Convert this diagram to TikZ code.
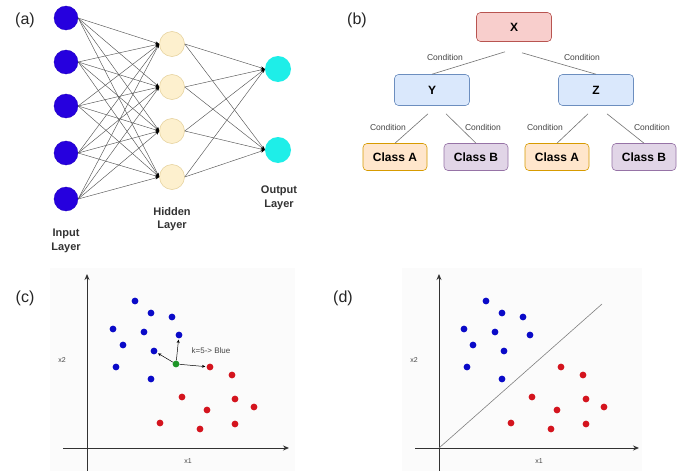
\documentclass[tikz,border=0pt]{standalone}
\usepackage{fontspec}
\setmainfont{Liberation Sans}
\usetikzlibrary{arrows.meta}
\definecolor{inblue}{RGB}{38,0,222}
\definecolor{hidfill}{RGB}{253,240,206}
\definecolor{hiddraw}{RGB}{228,206,150}
\definecolor{outcyan}{RGB}{30,238,232}
\definecolor{edgegray}{RGB}{85,85,85}
\definecolor{xfill}{HTML}{F8CECC}\definecolor{xdraw}{HTML}{B85450}
\definecolor{yfill}{HTML}{DAE8FC}\definecolor{ydraw}{HTML}{6C8EBF}
\definecolor{afill}{HTML}{FFE6CC}\definecolor{adraw}{HTML}{D79B00}
\definecolor{bfill}{HTML}{E1D5E7}\definecolor{bdraw}{HTML}{9673A6}
\definecolor{dotblue}{RGB}{10,10,200}
\definecolor{dotred}{RGB}{212,20,30}
\definecolor{dotgreen}{RGB}{30,150,40}
\definecolor{axisgray}{RGB}{50,50,50}
\definecolor{txtgray}{RGB}{70,70,70}
\begin{document}
\begin{tikzpicture}[x=1pt,y=-1pt,
  inp/.style={circle,fill=inblue,draw=inblue!85!black,line width=0.3pt,minimum size=24pt,inner sep=0pt},
  hid/.style={circle,fill=hidfill,draw=hiddraw,line width=0.5pt,minimum size=25pt,inner sep=0pt},
  outn/.style={circle,fill=outcyan,minimum size=26pt,inner sep=0pt},
  nnedge/.style={draw=edgegray,line width=0.45pt,-{Stealth[length=4pt,width=3pt,color=black]}},
  layerlbl/.style={align=center,font=\fontsize{11}{13.5}\selectfont\bfseries,text=black!80},
  panellbl/.style={font=\fontsize{16}{17}\selectfont,text=black!85},
  treebox/.style={rounded corners=4pt,line width=0.6pt,font=\fontsize{12}{13}\selectfont\bfseries,inner sep=0pt},
  xbox/.style={treebox,fill=xfill,draw=xdraw,minimum width=75pt,minimum height=29pt},
  ybox/.style={treebox,fill=yfill,draw=ydraw,minimum width=75pt,minimum height=31pt},
  abox/.style={treebox,fill=afill,draw=adraw,minimum width=64pt,minimum height=27pt},
  bbox/.style={treebox,fill=bfill,draw=bdraw,minimum width=64pt,minimum height=27pt},
  treeedge/.style={draw=black!55,line width=0.6pt},
  condlbl/.style={font=\fontsize{8.5}{9}\selectfont,text=txtgray,inner sep=0pt},
  axis/.style={draw=axisgray,line width=0.9pt,-{Stealth[length=6pt,width=5pt]}},
  axlbl/.style={font=\fontsize{7}{8}\selectfont,text=txtgray,inner sep=0pt},
  bdot/.style={circle,fill=dotblue,minimum size=6.8pt,inner sep=0pt},
  rdot/.style={circle,fill=dotred,minimum size=6.8pt,inner sep=0pt},
  gdot/.style={circle,fill=dotgreen,minimum size=6.8pt,inner sep=0pt},
  knn/.style={draw=black,line width=0.5pt,-{Stealth[length=3.5pt,width=3pt]},shorten >=1pt},
  klbl/.style={font=\fontsize{8}{9}\selectfont,text=txtgray,inner sep=0pt},
  panelbg/.style={fill=black!1.5,draw=none}
]
\useasboundingbox (0,0) rectangle (681,471);
\fill[white] (0,0) rectangle (681,471);

% ---------------- (a) neural network ----------------
\node[panellbl] (la) at (25,20) {(a)};
\foreach \i/\y in {1/18,2/62,3/106,4/153,5/199} \node[inp] (i\i) at (66,\y) {};
\foreach \i/\y in {1/44,2/87,3/131,4/177} \node[hid] (h\i) at (172,\y) {};
\foreach \i/\y in {1/69,2/150} \node[outn] (o\i) at (278,\y) {};
\foreach \i in {1,...,5}
  \foreach \j in {1,...,4}
    \draw[nnedge] (i\i.east) -- (h\j.west);
\foreach \j in {1,...,4}
  \foreach \k in {1,2}
    \draw[nnedge] (h\j.east) -- (o\k.west);
\node[layerlbl] (lin) at (66,241) {Input\\Layer};
\node[layerlbl] (lhid) at (172,219) {Hidden\\Layer};
\node[layerlbl] (lout) at (279,198) {Output\\Layer};

% ---------------- (b) decision tree ----------------
\node[panellbl] (lb) at (357,20) {(b)};
\node[xbox] (X) at (514,27) {X};
\node[ybox] (Y) at (432,90) {Y};
\node[ybox] (Z) at (596,90) {Z};
\node[abox] (A1) at (395,157) {Class A};
\node[bbox] (B1) at (476,157) {Class B};
\node[abox] (A2) at (557,157) {Class A};
\node[bbox] (B2) at (644,157) {Class B};
\draw[treeedge] ([xshift=-9pt,yshift=-10pt]X.south) -- (Y.north);
\draw[treeedge] ([xshift=8pt,yshift=-11pt]X.south) -- (Z.north);
\draw[treeedge] ([xshift=-4pt,yshift=-8pt]Y.south) -- (A1.north);
\draw[treeedge] ([xshift=14pt,yshift=-8pt]Y.south) -- (B1.north);
\draw[treeedge] ([xshift=-8pt,yshift=-8pt]Z.south) -- (A2.north);
\draw[treeedge] ([xshift=11pt,yshift=-8pt]Z.south) -- (B2.north);
\node[condlbl] (c1) at (445,57) {Condition};
\node[condlbl] (c2) at (582,57) {Condition};
\node[condlbl] (c3) at (388,127) {Condition};
\node[condlbl] (c4) at (483,127) {Condition};
\node[condlbl] (c5) at (545,127) {Condition};
\node[condlbl] (c6) at (652,127) {Condition};

% ---------------- (c) kNN ----------------
\fill[panelbg] (50,268) rectangle (295,471);
\node[panellbl] (lc) at (25,298) {(c)};
\coordinate (cy0) at (87,471);
\coordinate (cy1) at (87,274);
\coordinate (cx0) at (63,448);
\coordinate (cx1) at (289,448);
\draw[axis] (cy0) -- (cy1);
\draw[axis] (cx0) -- (cx1);
\node[axlbl] (cx2l) at (62,360) {x2};
\node[axlbl] (cx1l) at (188,461) {x1};
\foreach \n/\x/\y in {1/135/301,2/151/313,3/172/317,4/113/329,5/144/332,6/179/335,7/123/345,8/154/351,9/116/367,10/151/379}
  \node[bdot] (cb\n) at (\x,\y) {};
\foreach \n/\x/\y in {1/210/367,2/232/375,3/182/397,4/235/399,5/254/407,6/207/410,7/160/423,8/200/429,9/235/424}
  \node[rdot] (cr\n) at (\x,\y) {};
\node[gdot] (g) at (176,364) {};
\draw[knn] (g) -- (cb6);
\draw[knn] (g) -- (cb8);
\draw[knn] (g) -- (cr1);
\node[klbl] (klabel) at (211,351) {k=5-> Blue};

% ---------------- (d) linear separation ----------------
\fill[panelbg] (402,268) rectangle (642,471);
\node[panellbl] (ld) at (343,298) {(d)};
\coordinate (dy0) at (439,471);
\coordinate (dy1) at (439,274);
\coordinate (dx0) at (415,448);
\coordinate (dx1) at (639,448);
\draw[axis] (dy0) -- (dy1);
\draw[axis] (dx0) -- (dx1);
\coordinate (dorig) at (439,448);
\coordinate (dend) at (602,304);
\draw[draw=black!50,line width=0.6pt] (dorig) -- (dend);
\node[axlbl] (dx2l) at (414,360) {x2};
\node[axlbl] (dx1l) at (539,461) {x1};
\foreach \n/\x/\y in {1/486/301,2/502/313,3/523/317,4/464/329,5/495/332,6/530/335,7/473/345,8/504/351,9/467/367,10/502/379}
  \node[bdot] (db\n) at (\x,\y) {};
\foreach \n/\x/\y in {1/561/367,2/583/375,3/532/397,4/586/399,5/604/407,6/557/410,7/511/423,8/551/429,9/586/424}
  \node[rdot] (dr\n) at (\x,\y) {};
\end{tikzpicture}
\end{document}
